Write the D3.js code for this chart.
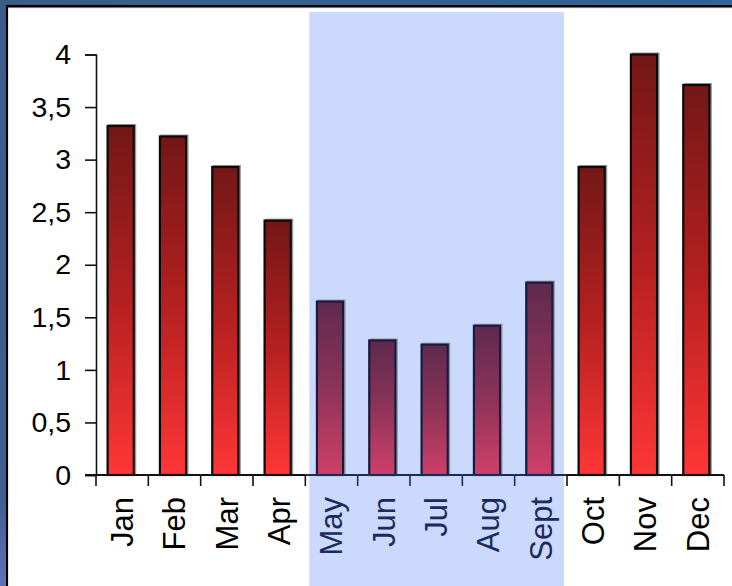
<!DOCTYPE html>
<html>
<head>
<meta charset="utf-8">
<script src="https://cdn.jsdelivr.net/npm/d3@7/dist/d3.min.js"></script>
<style>
  html, body { margin: 0; padding: 0; background: #fff; }
  svg { display: block; font-family: "Liberation Sans", Arial, sans-serif; }
</style>
</head>
<body>
<svg id="chart" width="732" height="586"></svg>
<script>
// Monthly values
const months = ["Jan", "Feb", "Mar", "Apr", "May", "Jun", "Jul", "Aug", "Sept", "Oct", "Nov", "Dec"];
const values = [3.32, 3.22, 2.93, 2.42, 1.65, 1.28, 1.24, 1.42, 1.83, 2.93, 4.0, 3.71];
// Months inside the highlighted season
const season = ["May", "Jun", "Jul", "Aug", "Sept"];
const yTicks = [0, 0.5, 1, 1.5, 2, 2.5, 3, 3.5, 4];

const data = months.map((m, i) => ({ month: m, value: values[i], inSeason: season.includes(m) }));

const W = 732, H = 586;
const svg = d3.select("#chart");
const defs = svg.append("defs");

// Frame background
const bg = defs.append("linearGradient").attr("id", "bg").attr("x1", 0).attr("y1", 0).attr("x2", 1).attr("y2", 1);
bg.append("stop").attr("offset", "0%").attr("stop-color", "#3a5c88");
bg.append("stop").attr("offset", "60%").attr("stop-color", "#2c669c");
bg.append("stop").attr("offset", "100%").attr("stop-color", "#5a6cb0");
const bgLeft = defs.append("linearGradient").attr("id", "bgLeft").attr("x1", 0).attr("y1", 0).attr("x2", 0).attr("y2", 1);
bgLeft.append("stop").attr("offset", "0%").attr("stop-color", "#3a5c88");
bgLeft.append("stop").attr("offset", "85%").attr("stop-color", "#3f5f90");
bgLeft.append("stop").attr("offset", "100%").attr("stop-color", "#6070b4");

svg.append("rect").attr("width", W).attr("height", H).attr("fill", "url(#bg)");
svg.append("rect").attr("width", 8).attr("height", H).attr("fill", "url(#bgLeft)");
// panel border and body
svg.append("rect").attr("x", 6).attr("y", 5).attr("width", W).attr("height", H).attr("fill", "#000");
svg.append("rect").attr("x", 8).attr("y", 7.5).attr("width", W).attr("height", H).attr("fill", "#e6e6e6");
svg.append("rect").attr("x", 9).attr("y", 8.5).attr("width", W).attr("height", H).attr("fill", "#fff");

// Bar gradients
function grad(id, top, mid, bottom) {
  const g = defs.append("linearGradient").attr("id", id).attr("x1", 0).attr("y1", 0).attr("x2", 0).attr("y2", 1);
  g.append("stop").attr("offset", "0%").attr("stop-color", top);
  g.append("stop").attr("offset", "50%").attr("stop-color", mid);
  g.append("stop").attr("offset", "100%").attr("stop-color", bottom);
}
grad("redBar", "#731717", "#b52020", "#ff3636");
grad("seasonBar", "#5f2a4e", "#8e3358", "#cf4068");

const x = d3.scaleBand().domain(months).range([96, 724]).paddingInner(0).paddingOuter(0);
const y = d3.scaleLinear().domain([0, 4]).range([475, 54.5]);
const bw = x.bandwidth();

// Highlighted season band
svg.append("rect")
  .attr("x", x(season[0]) + 4)
  .attr("y", 12)
  .attr("width", x(season[season.length - 1]) + bw - 3 - (x(season[0]) + 4))
  .attr("height", H - 12)
  .attr("fill", "#cbd9fd");

// Bars with shadow
const barW = bw * 0.5;
const bars = svg.append("g");
bars.selectAll("rect.shadow").data(data).join("rect")
  .attr("class", "shadow")
  .attr("x", d => x(d.month) + (bw - barW) / 2)
  .attr("y", d => y(d.value) - 1)
  .attr("width", barW)
  .attr("height", d => y(0) - y(d.value) + 1)
  .attr("fill", "none")
  .attr("stroke", "#9a9a9a")
  .attr("stroke-width", 2);
bars.selectAll("rect.bar").data(data).join("rect")
  .attr("class", "bar")
  .attr("x", d => x(d.month) + (bw - barW) / 2 - 1.5)
  .attr("y", d => y(d.value))
  .attr("width", barW)
  .attr("height", d => y(0) - y(d.value))
  .attr("fill", d => d.inSeason ? "url(#seasonBar)" : "url(#redBar)")
  .attr("stroke", d => d.inSeason ? "#161b44" : "#0a0a0a")
  .attr("stroke-width", 2.2);

// Y axis
const fmt = d3.formatLocale({ decimal: ",", thousands: ".", grouping: [3], currency: ["", ""] }).format("~g");
const yAxis = d3.axisLeft(y).tickValues(yTicks).tickFormat(fmt).tickSize(11).tickPadding(14);
const gy = svg.append("g").attr("transform", "translate(96,0)").call(yAxis);
gy.select(".domain").attr("stroke", "#111").attr("stroke-width", 1.6);
gy.selectAll(".tick line").attr("stroke", "#111").attr("stroke-width", 1.6);
gy.selectAll(".tick text").attr("font-size", 28.5).attr("fill", "#000")
  .attr("font-family", "'Liberation Sans', Arial, sans-serif");

// X axis: baseline segments and boundary ticks, navy within the season
const axisG = svg.append("g");
const seasonColor = "#1c2a5e";
axisG.selectAll("line.base").data(data).join("line")
  .attr("class", "base")
  .attr("x1", d => x(d.month)).attr("x2", d => x(d.month) + bw)
  .attr("y1", y(0)).attr("y2", y(0))
  .attr("stroke", d => d.inSeason ? seasonColor : "#111")
  .attr("stroke-width", 2);
axisG.append("line").attr("x1", 85).attr("x2", 96).attr("y1", y(0)).attr("y2", y(0))
  .attr("stroke", "#111").attr("stroke-width", 2);
const bounds = months.map(m => x(m)).concat([x(months[months.length - 1]) + bw]);
axisG.selectAll("line.tick").data(bounds).join("line")
  .attr("class", "tick")
  .attr("x1", d => d).attr("x2", d => d)
  .attr("y1", y(0)).attr("y2", y(0) + 11)
  .attr("stroke", (d, i) => (i > months.indexOf(season[0]) && i <= months.indexOf(season[season.length - 1])) ? seasonColor : "#111")
  .attr("stroke-width", 1.6);

// Month labels, rotated
svg.append("g").selectAll("text").data(data).join("text")
  .attr("transform", d => `translate(${x(d.month) + bw / 2},497) rotate(-90)`)
  .attr("text-anchor", "end")
  .attr("dy", "0.35em")
  .attr("font-size", 31)
  .attr("fill", d => d.inSeason ? seasonColor : "#000")
  .text(d => d.month);
</script>
</body>
</html>
